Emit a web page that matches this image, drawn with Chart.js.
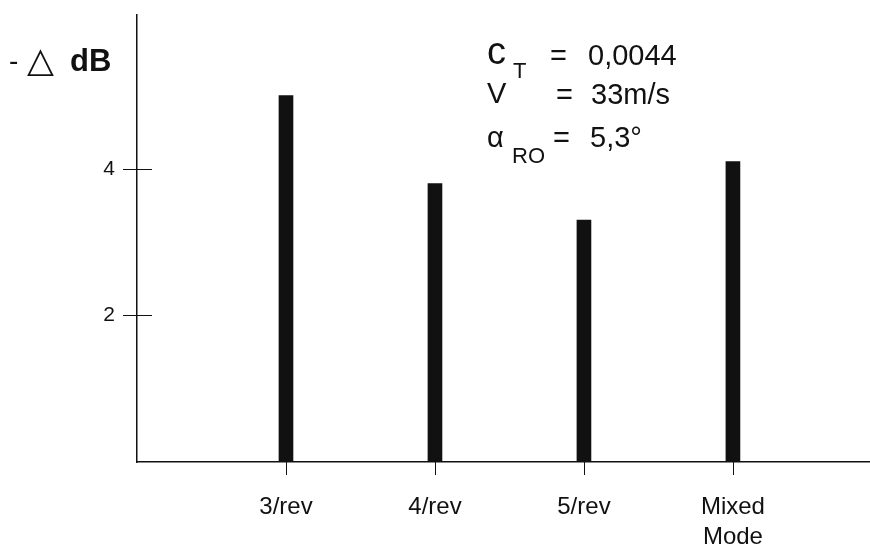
<!DOCTYPE html>
<html>
<head>
<title>Noise reduction per HHC mode</title>
<script src="https://cdn.jsdelivr.net/npm/chart.js@4.4.0/dist/chart.umd.min.js"></script>
<style>
  html, body { margin: 0; padding: 0; background: #fff; }
  #wrap { width: 870px; height: 554px; position: relative; }
</style>
</head>
<body>
<div id="wrap"><canvas id="barChart"></canvas></div>
<script>
// control modes along the bottom, one bar each
const modes = ['3/rev', '4/rev', '5/rev', ['Mixed', 'Mode']];
const modePos = [1, 2, 3, 4];
const dbReduction = [5.0, 3.8, 3.3, 4.1];
const yTicks = [2, 4];

const sansFont = '"Liberation Sans", Arial, sans-serif';
const ink = '#111';

// ticks that cross the y axis and hang below the x axis
const tickMarks = {
  id: 'tickMarks',
  afterDraw(chart) {
    const {ctx, scales: {x, y}} = chart;
    ctx.save();
    ctx.strokeStyle = ink;
    ctx.lineWidth = 1;
    yTicks.forEach(v => {
      const py = Math.round(y.getPixelForValue(v)) + 0.5;
      ctx.beginPath();
      ctx.moveTo(x.left - 14, py);
      ctx.lineTo(x.left + 15, py);
      ctx.stroke();
    });
    modePos.forEach(v => {
      const px = Math.round(x.getPixelForValue(v)) + 0.5;
      ctx.beginPath();
      ctx.moveTo(px, y.bottom);
      ctx.lineTo(px, y.bottom + 13);
      ctx.stroke();
    });
    ctx.restore();
  }
};

// axis title and the flight condition block
const notes = {
  id: 'notes',
  afterDraw(chart) {
    const ctx = chart.ctx;
    ctx.save();
    ctx.fillStyle = ink;
    ctx.textBaseline = 'alphabetic';

    ctx.font = '28px ' + sansFont;
    ctx.fillText('-', 9, 70);
    ctx.font = '35px "DejaVu Sans"';
    ctx.fillText('\u25B3', 27, 72);
    ctx.font = 'bold 31px ' + sansFont;
    ctx.fillText('dB', 70, 71);

    const big = '29px ' + sansFont;
    const sub = '22px ' + sansFont;

    ctx.font = '38px ' + sansFont;
    ctx.fillText('c', 487, 64);
    ctx.font = sub;
    ctx.fillText('T', 513, 78);
    ctx.font = big;
    ctx.fillText('=', 550, 65);
    ctx.fillText('0,0044', 588, 65);

    ctx.fillText('V', 487, 103);
    ctx.fillText('=', 556, 104);
    ctx.fillText('33m/s', 591, 104);

    ctx.fillText('\u03B1', 487, 147);
    ctx.font = sub;
    ctx.fillText('RO', 512, 163);
    ctx.font = big;
    ctx.fillText('=', 553, 147);
    ctx.fillText('5,3\u00B0', 590, 147);

    ctx.restore();
  }
};

new Chart('barChart', {
  type: 'bar',
  data: {
    datasets: [{
      data: modePos.map((p, i) => ({x: p, y: dbReduction[i]})),
      backgroundColor: ink,
      borderWidth: 0,
      barThickness: 14
    }]
  },
  options: {
    responsive: true,
    maintainAspectRatio: false,
    animation: false,
    devicePixelRatio: 1,
    layout: {padding: {top: 15, left: 0, right: 0, bottom: 0}},
    plugins: {legend: {display: false}, tooltip: {enabled: false}},
    scales: {
      x: {
        type: 'linear',
        offset: false,
        min: 0,
        max: 4.92,
        grid: {display: false, drawTicks: false},
        border: {display: true, color: ink, width: 1.5},
        afterBuildTicks: s => { s.ticks = modePos.map(v => ({value: v})); },
        afterFit: s => { s.height = 92; s.paddingLeft = 0; s.paddingRight = 0; },
        ticks: {
          color: ink,
          padding: 30,
          maxRotation: 0,
          autoSkip: false,
          font: {family: sansFont, size: 24, lineHeight: 1.25},
          callback: v => modes[modePos.indexOf(v)]
        }
      },
      y: {
        min: 0,
        max: 6.1,
        grid: {display: false, drawTicks: false},
        border: {display: true, color: ink, width: 1.5},
        afterBuildTicks: s => { s.ticks = yTicks.map(v => ({value: v})); },
        afterFit: s => { s.width = 137; s.paddingTop = 0; s.paddingBottom = 0; },
        ticks: {
          color: ink,
          padding: 22,
          font: {family: sansFont, size: 21}
        }
      }
    }
  },
  plugins: [tickMarks, notes]
});
</script>
</body>
</html>
